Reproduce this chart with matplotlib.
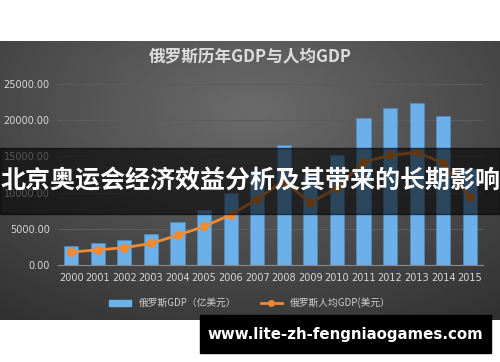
import numpy as np
import matplotlib
matplotlib.use('Agg')
import matplotlib.pyplot as plt
from matplotlib.patches import Rectangle
from matplotlib.lines import Line2D

plt.rcParams['font.family'] = ['Noto Sans CJK SC', 'DejaVu Sans']

years = ['2000', '2001', '2002', '2003', '2004', '2005', '2006', '2007',
         '2008', '2009', '2010', '2011', '2012', '2013', '2014', '2015']
gdp = [2597, 3066, 3451, 4303, 5910, 7640, 9899, 12997,
       16608, 12226, 15249, 20316, 21701, 22307, 20636, 13312]
gdp_per_capita = [1772, 2100, 2377, 2975, 4102, 5323, 6920, 9101,
                  11635, 8562, 10675, 14212, 15154, 15544, 14126, 9329]
y_ticks = [0, 5000, 10000, 15000, 20000, 25000]

fig = plt.figure(figsize=(5, 3.62), dpi=100)
fig.patch.set_facecolor('white')

# dark gradient panel behind the chart
bg = fig.add_axes([0, 0.116, 1, 0.771])
yy, xx = np.mgrid[0:1:200j, 0:1:300j]
r = np.sqrt(((xx - 0.5) / 0.8) ** 2 + ((yy - 0.25) / 0.9) ** 2)
bg.imshow(0.42 - 0.22 * r, cmap='gray', vmin=0, vmax=1, aspect='auto',
          extent=[0, 1, 0, 1], origin='upper')
bg.set_axis_off()

ax = fig.add_axes([0.116, 0.268, 0.85, 0.5])
ax.patch.set_alpha(0)
x = np.arange(len(years))
ax.bar(x, gdp, width=0.53, color='#6cb0ea', edgecolor='#4f8cc4', linewidth=0.5, zorder=2)
ax.plot(x, gdp_per_capita, color='#f08a33', lw=2, marker='o', ms=5.5, zorder=3)
ax.set_xlim(-0.5, len(years) - 0.5)
ax.set_ylim(0, 25000)
ax.set_yticks(y_ticks)
ax.set_yticklabels(['%.2f' % v for v in y_ticks])
ax.set_xticks(x)
ax.set_xticklabels(years)
ax.tick_params(colors='#d8d8d8', labelsize=7, length=0, pad=6)
for t in ax.get_xticklabels() + ax.get_yticklabels():
    t.set_family('DejaVu Sans')
ax.grid(axis='y', color='#5c5c5c', lw=0.8, zorder=0)
for s in ['top', 'right', 'left']:
    ax.spines[s].set_visible(False)
ax.spines['bottom'].set_color('#8a8a8a')

fig.text(0.5, 0.842, '俄罗斯历年GDP与人均GDP', ha='center', va='center',
         fontsize=12, color='#dcdcdc', fontweight='bold')

handles = [Rectangle((0, 0), 1, 1, color='#6cb0ea'),
           Line2D([], [], color='#f08a33', lw=2, marker='o', ms=4)]
leg = fig.legend(handles, ['俄罗斯GDP（亿美元）', '俄罗斯人均GDP(美元）'],
                 loc='center', bbox_to_anchor=(0.5, 0.163), ncol=2, frameon=False,
                 fontsize=7, handlelength=2.2, columnspacing=2.5)
for t in leg.get_texts():
    t.set_color('#d0d0d0')

# overlay band with headline
fig.add_artist(Rectangle((0, 0.409), 1, 0.182, transform=fig.transFigure,
                         color='black', alpha=0.6, zorder=5))
fig.text(0.5, 0.5, '北京奥运会经济效益分析及其带来的长期影响', ha='center', va='center',
         fontsize=18, color='white', fontweight='bold', zorder=6)

# url box
fig.add_artist(Rectangle((0.4, 0.025), 0.582, 0.105, transform=fig.transFigure,
                         color='black', zorder=5))
fig.text(0.691, 0.077, 'www.lite-zh-fengniaogames.com', ha='center', va='center',
         fontsize=10.8, color='white', fontweight='bold', family='DejaVu Sans', zorder=6)

fig.savefig('out.png', dpi=100)
